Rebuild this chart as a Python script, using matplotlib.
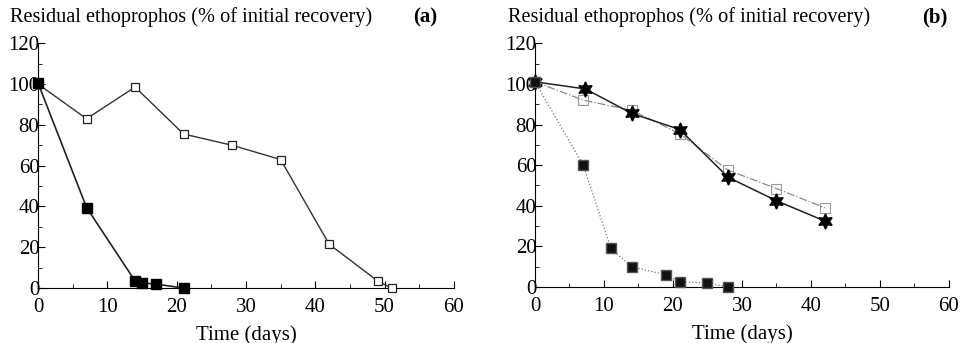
import matplotlib
matplotlib.use("Agg")
import matplotlib.pyplot as plt
from matplotlib.ticker import MultipleLocator

plt.rcParams['font.family'] = ['Liberation Serif', 'DejaVu Serif']

# panel (a)
a_open_days = [0, 7, 14, 21, 28, 35, 42, 49, 51]
a_open_vals = [100, 83, 98.5, 75.5, 70, 63, 21.5, 3.5, 0]
a_fill_days = [0, 7, 14, 15, 17, 21]
a_fill_vals = [100.5, 39.5, 3.5, 2.5, 2, 0]

# panel (b)
b_star_days = [0, 7.3, 14, 21, 28, 35, 42]
b_star_vals = [101, 97.5, 85.5, 77.5, 54, 42.5, 32.5]
b_open_days = [0, 7, 14, 21, 28, 35, 42]
b_open_vals = [101, 92, 87, 75.5, 57.5, 48.5, 39]
b_fill_days = [0, 7, 11, 14, 19, 21, 25, 28]
b_fill_vals = [101, 60, 19, 10, 6, 2.5, 2, 0]

title = "Residual ethoprophos (% of initial recovery)"

fig = plt.figure(figsize=(9.65, 3.43), dpi=100)
ax1 = fig.add_axes([0.0394, 0.160, 0.431, 0.714])
ax2 = fig.add_axes([0.5544, 0.163, 0.429, 0.711])


def style_axes(ax):
    ax.set_xlim(0, 60)
    ax.set_ylim(0, 120)
    ax.spines['top'].set_visible(False)
    ax.spines['right'].set_visible(False)
    ax.xaxis.set_major_locator(MultipleLocator(10))
    ax.xaxis.set_minor_locator(MultipleLocator(5))
    ax.yaxis.set_major_locator(MultipleLocator(20))
    ax.yaxis.set_minor_locator(MultipleLocator(10))
    ax.tick_params(which='both', direction='in', labelsize=15)
    ax.tick_params(axis='x', pad=7)
    ax.tick_params(axis='y', pad=-1)
    ax.tick_params(which='major', length=5)
    ax.tick_params(which='minor', length=3)
    ax.set_xlabel("Time (days)", fontsize=15, labelpad=6)


# (a)
ax1.plot(a_open_days, a_open_vals, color='#333333', lw=1, marker='s', ms=6,
         mfc='white', mec='#222222', mew=0.9, clip_on=False, zorder=3)
ax1.plot(a_fill_days, a_fill_vals, color='#222222', lw=1.2, marker='s', ms=7,
         mfc='black', mec='black', clip_on=False, zorder=4)
style_axes(ax1)

# (b)
ax2.plot(b_open_days, b_open_vals, color='#888888', lw=0.9, ls='-.', marker='s', ms=7,
         mfc='none', mec='#999999', mew=0.8, clip_on=False, zorder=3)
ax2.plot(b_star_days, b_star_vals, color='#222222', lw=1.1, marker=(6, 1, 0), ms=11,
         mfc='black', mec='black', clip_on=False, zorder=4)
ax2.plot(b_fill_days, b_fill_vals, color='#777777', lw=0.9, ls=':', marker='s', ms=7,
         mfc='#111111', mec='#555555', clip_on=False, zorder=4)
style_axes(ax2)

fig.text(10 / 965, 1 - 22 / 343, title, fontsize=14.6)
fig.text(413 / 965, 1 - 22 / 343, "(a)", fontsize=15, fontweight='bold')
fig.text(508 / 965, 1 - 22 / 343, title, fontsize=14.6)
fig.text(922 / 965, 1 - 22 / 343, "(b)", fontsize=15, fontweight='bold')

fig.savefig("out.png", dpi=100)
